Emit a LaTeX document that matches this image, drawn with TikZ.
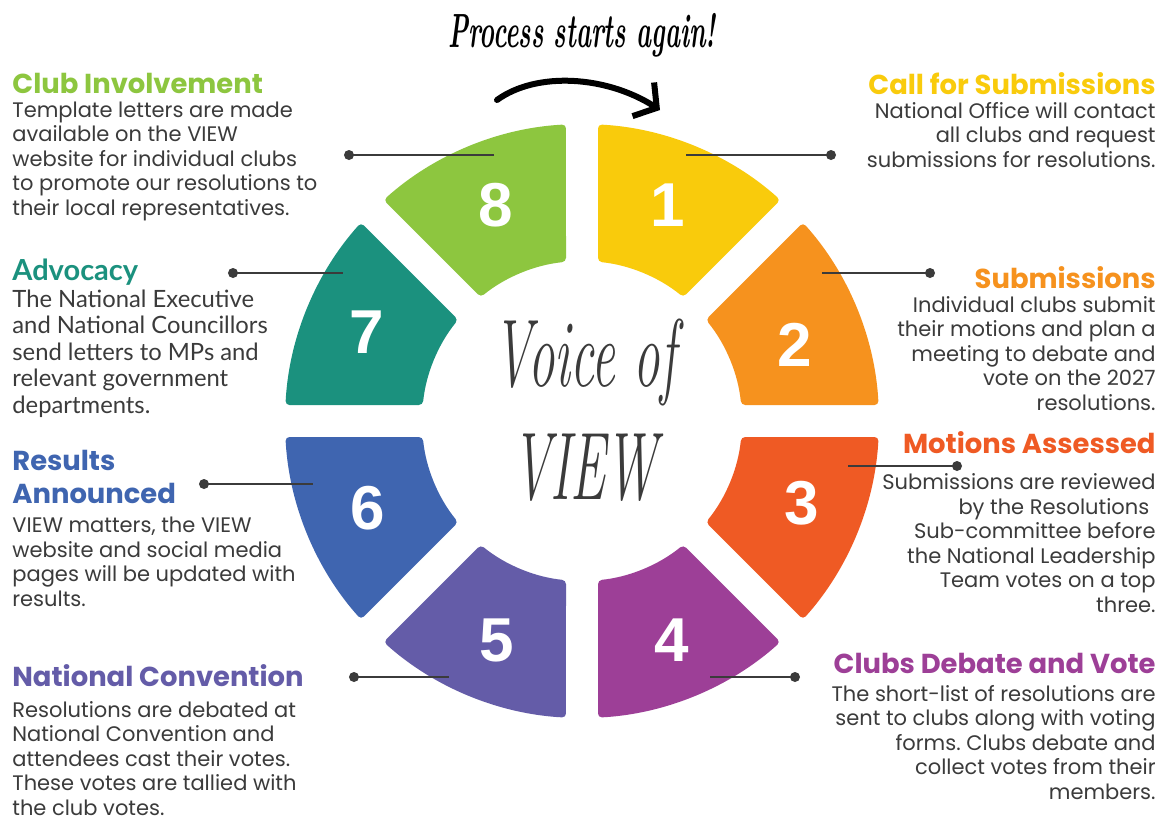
\documentclass[tikz,border=0pt]{standalone}
\usepackage{fontspec}
\usepackage{graphicx}
\usetikzlibrary{arrows.meta}

\newfontfamily\pop{Poppins}
\newfontfamily\lato{Lato}
\newfontfamily\digitfont{Liberation Sans}

\definecolor{cOne}{HTML}{F9CB0C}
\definecolor{cTwo}{HTML}{F6921E}
\definecolor{cThree}{HTML}{EF5A24}
\definecolor{cFour}{HTML}{9D3F97}
\definecolor{cFive}{HTML}{645CA8}
\definecolor{cSix}{HTML}{3F65B0}
\definecolor{cSeven}{HTML}{1B917E}
\definecolor{cEight}{HTML}{8DC63F}
\definecolor{ink}{HTML}{3B3B3B}

\frenchspacing

\begin{document}
\begin{tikzpicture}[x=0.5pt, y=0.5pt,
		head/.style={font=\pop\bfseries\fontsize{13.7}{16.5}\selectfont, inner sep=0, align=left},
		body/.style={font=\pop\fontsize{10.5}{12.25}\selectfont, text=ink, inner sep=0},
		num/.style={font=\digitfont\bfseries\fontsize{31}{31}\selectfont, text=white, inner sep=0},
		lead/.style={draw=ink, line width=1.25pt},
		hand/.style={font=\rmfamily\itshape\fontsize{48}{48}\selectfont, text=ink, inner sep=0}]
	\useasboundingbox[fill=white] (-582,-395) rectangle (584,421);

	% ring parts, clockwise from the top right
	\foreach \a/\col in {45/cOne, 0/cTwo, -45/cThree, -90/cFour, -135/cFive, 180/cSix, 135/cSeven, 90/cEight}
		\fill[\col, rounded corners=2pt] (\a+3.09:297) arc[start angle=\a+3.09, end angle=\a+41.91, radius=297]
			-- (\a+39.26:160) arc[start angle=\a+39.26, end angle=\a+5.74, radius=160] -- cycle;

	\path (86, 216) node[num] (d1){1}
		(213, 76) node[num] (d2){2}
		(220, -82) node[num] (d3){3}
		(90, -219) node[num] (d4){4}
		(-85, -219) node[num] (d5){5}
		(-214, -87) node[num] (d6){6}
		(-215, 89) node[num] (d7){7}
		(-86, 216) node[num] (d8){8};

	\path (3, 59) node[hand] (voice){\scalebox{0.55}[1]{Voice of}}
		(3, -47) node[hand] (view){\scalebox{0.55}[1]{VIEW}}
		(0, 386) node[hand, text=black, font=\rmfamily\bfseries\itshape\fontsize{24}{24}\selectfont] (again){\scalebox{0.53}[1]{Process starts again!}};

	% leader lines
	\coordinate (q1) at (104, 266); \coordinate (p1) at (249, 266);
	\coordinate (q2) at (240, 148); \coordinate (p2) at (348, 148);
	\coordinate (q3) at (266, -45); \coordinate (p3) at (375, -45);
	\coordinate (q4) at (128, -256); \coordinate (p4) at (213, -256);
	\coordinate (q5) at (-133, -256); \coordinate (p5) at (-228, -256);
	\coordinate (q6) at (-269, -63); \coordinate (p6) at (-378, -63);
	\coordinate (q7) at (-239, 148); \coordinate (p7) at (-349, 148);
	\coordinate (q8) at (-88, 266); \coordinate (p8) at (-233, 266);
	\foreach \k in {1,...,8}{
		\draw[lead] (q\k) -- (p\k);
		\fill[ink] (p\k) circle[radius=5];
	}

	\coordinate (ra) at (-85, 321);
	\coordinate (rb) at (78, 311);
	\draw[line width=3pt, line cap=round, -{Straight Barb[length=8pt, width=20pt]}] (ra) .. controls (-45, 350) and (25, 345) .. (rb);

	% right column (multi-line nodes sit on their last baseline)
	\path (574, 327) node[head, anchor=base east, text=cOne] (h1){Call for Submissions}
		(574, 254) node[body, anchor=base east, align=right] (t1){National Office will contact\\all clubs and request\\submissions for resolutions.}
		(574, 133) node[head, anchor=base east, text=cTwo] (h2){Submissions}
		(574, 11) node[body, anchor=base east, align=right] (t2){Individual clubs submit\\their motions and plan a\\meeting to debate and\\vote on the 2027\\resolutions.}
		(574, -32) node[head, anchor=base east, text=cThree] (h3){Motions Assessed}
		(574, -191) node[body, anchor=base east, align=right] (t3){Submissions are reviewed\\by the Resolutions\kern.3em\\Sub-committee before\\the National Leadership\\Team votes on a top\\three.}
		(574, -252) node[head, anchor=base east, text=cFour] (h4){Clubs Debate and Vote}
		(574, -378) node[body, anchor=base east, align=right] (t4){The short-list of resolutions are\\sent to clubs along with voting\\forms. Clubs debate and\\collect votes from their\\members.};

	% left column
	\path (-570, 328) node[head, anchor=base west, text=cEight] (h8){Club Involvement}
		(-570, 206) node[body, anchor=base west, align=left] (t8){Template letters are made\\available on the VIEW\\website for individual clubs\\to promote our resolutions to\\their local representatives.}
		(-570, 141) node[head, anchor=base west, text=cSeven, font=\lato\bfseries\fontsize{14.5}{16.5}\selectfont] (h7){Advocacy}
		(-570, 8) node[body, anchor=base west, align=left, font=\lato\fontsize{11.9}{13.25}\selectfont] (t7){The National Executive\\and National Councillors\\send letters to MPs and\\relevant government\\departments.}
		(-570, -82) node[head, anchor=base west, text=cSix] (h6){Results\\Announced}
		(-570, -185) node[body, anchor=base west, align=left] (t6){VIEW matters, the VIEW\\website and social media\\pages will be updated with\\results.}
		(-570, -265) node[head, anchor=base west, text=cFive] (h5){National Convention}
		(-570, -394) node[body, anchor=base west, align=left] (t5){Resolutions are debated at\\National Convention and\\attendees cast their votes.\\These votes are tallied with\\the club votes.};
\end{tikzpicture}
\end{document}
